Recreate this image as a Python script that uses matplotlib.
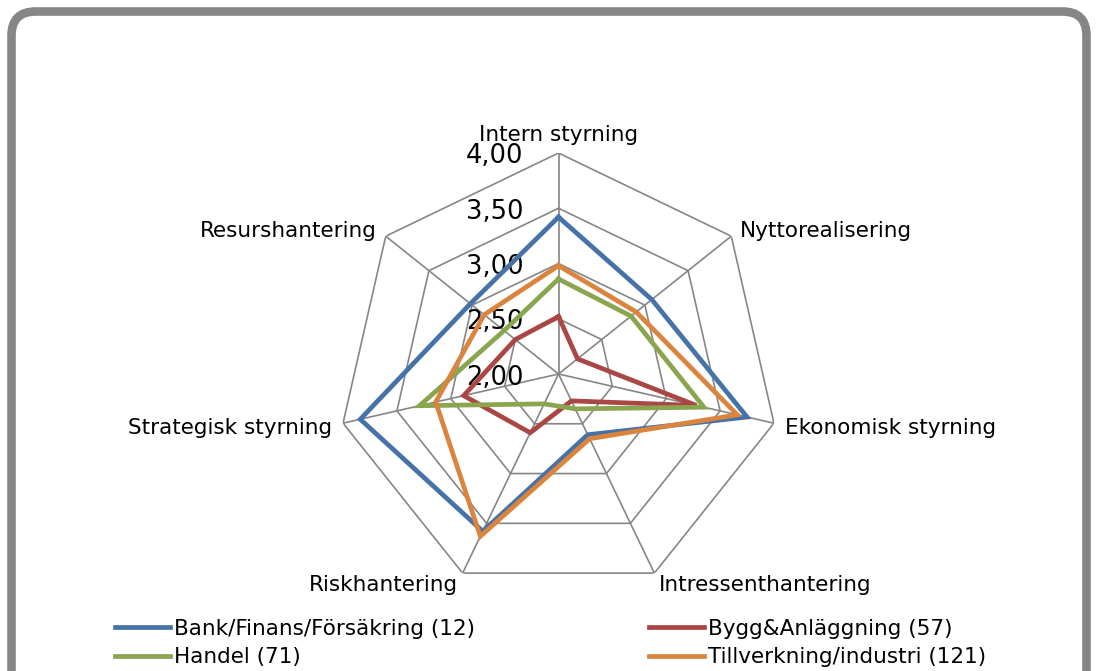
import numpy as np
import matplotlib
matplotlib.use("Agg")
import matplotlib.pyplot as plt
from matplotlib.patches import FancyBboxPatch
from matplotlib.transforms import offset_copy

categories = ["Intern styrning", "Nyttorealisering", "Ekonomisk styrning",
              "Intressenthantering", "Riskhantering", "Strategisk styrning",
              "Resurshantering"]

bank = [3.42, 3.08, 3.75, 2.61, 3.58, 3.84, 3.02]
bygg = [2.52, 2.22, 3.28, 2.27, 2.59, 2.88, 2.50]
handel = [2.86, 2.84, 3.35, 2.35, 2.30, 3.29, 2.63]
tillverkning = [2.98, 2.90, 3.66, 2.65, 3.63, 3.14, 2.86]

series_names = ["Bank/Finans/Försäkring (12)", "Bygg&Anläggning (57)",
                "Handel (71)", "Tillverkning/industri (121)"]
colors = ["#4572A7", "#AA4643", "#89A54E", "#DB843D"]

ticks = [2.0, 2.5, 3.0, 3.5, 4.0]
tick_labels = ["2,00", "2,50", "3,00", "3,50", "4,00"]

plt.rcParams['font.family'] = ['DejaVu Sans']

W, H = 1098, 671
fig = plt.figure(figsize=(W / 100, H / 100), dpi=100)

# rounded grey frame (bottom runs off the image)
frame = FancyBboxPatch((11.5 / W, -0.05), (1086.5 - 11.5) / W, (H - 11.5) / H + 0.05,
                       boxstyle="round,pad=0,rounding_size=0.022",
                       transform=fig.transFigure, facecolor="none",
                       edgecolor="#868686", linewidth=6.2, mutation_aspect=W / H,
                       zorder=-1)
fig.patches.append(frame)

cx, cy, rad = 558.5, 374.0, 221.0
ax = fig.add_axes([(cx - rad) / W, 1 - (cy + rad) / H, 2 * rad / W, 2 * rad / H],
                  projection="polar")
ax.set_theta_zero_location("N")
ax.set_theta_direction(-1)
ax.set_ylim(2.0, 4.0)
ax.grid(False)
ax.spines["polar"].set_visible(False)
ax.set_xticks([])
ax.set_yticks([])
ax.patch.set_alpha(0)

n = len(categories)
theta = np.arange(n) * 2 * np.pi / n
theta_c = np.append(theta, theta[0])

grid_col = "#868686"
for t in ticks[1:]:
    ax.plot(theta_c, [t] * (n + 1), color=grid_col, lw=1.2, zorder=1)
for th in theta:
    ax.plot([th, th], [2.0, 4.0], color=grid_col, lw=1.2, zorder=1)

lines = []
for vals, name, col in zip([bank, bygg, handel, tillverkning], series_names, colors):
    v = np.append(vals, vals[0])
    ln, = ax.plot(theta_c, v, color=col, lw=3.4, label=name, zorder=3,
                  solid_joinstyle="miter")
    lines.append(ln)

# value labels along top axis
for t, lab in zip(ticks, tick_labels):
    tr = offset_copy(ax.transData, fig=fig, x=-35, y=-3.5, units="dots")
    ax.text(0, t, lab, transform=tr, ha="right", va="center", fontsize=18.5,
            color="black", zorder=2)

# category labels
for th, lab in zip(theta, categories):
    s, c = np.sin(th), np.cos(th)
    if abs(s) < 0.1:
        ha, va = "center", "bottom"
        dx, dy = 0, 8
    else:
        ha = "left" if s > 0 else "right"
        va = "center"
        dx, dy = 11 * s, 11 * c - 2
    tr = offset_copy(ax.transData, fig=fig, x=dx, y=dy, units="dots")
    ax.text(th, 4.0, lab, transform=tr, ha=ha, va=va, fontsize=15.5)

order = [0, 2, 1, 3]
fig.legend([lines[i] for i in order], [series_names[i] for i in order],
           ncol=2, loc="upper left", bbox_to_anchor=(115 / W, 1 - 619 / H),
           frameon=False, fontsize=15.5, handlelength=2.56, handletextpad=0.19,
           columnspacing=8.08, labelspacing=0.39, borderpad=0, borderaxespad=0)

fig.savefig("out.png", dpi=100)
